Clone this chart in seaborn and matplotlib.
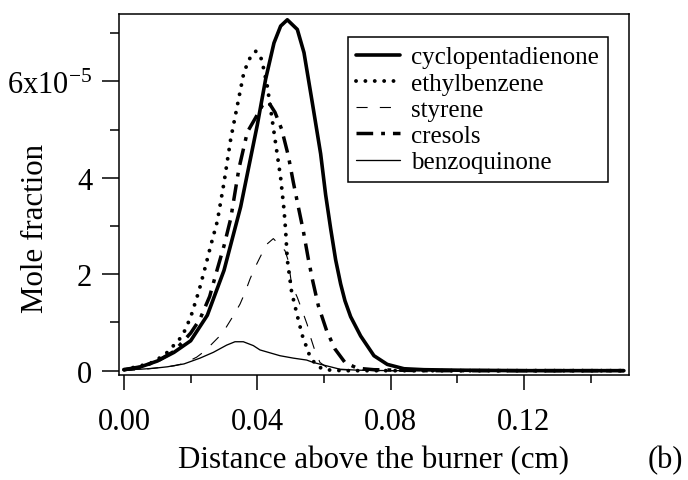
import pandas as pd
import seaborn as sns
import matplotlib.pyplot as plt

sns.set_style('ticks')
plt.rcParams['font.family'] = ['Liberation Serif', 'DejaVu Serif']
plt.rcParams['mathtext.fontset'] = 'custom'
plt.rcParams['mathtext.rm'] = 'Liberation Serif'
plt.rcParams['mathtext.default'] = 'regular'
for key in ['text.color', 'axes.labelcolor', 'xtick.color', 'ytick.color', 'axes.edgecolor']:
    plt.rcParams[key] = 'black'

# ---------- data (distance in cm, mole fraction in 1e-5) ----------
cpd_x = [0, 0.005, 0.01, 0.015, 0.02, 0.025, 0.03, 0.035, 0.04, 0.0425, 0.045, 0.047,
         0.049, 0.052, 0.054, 0.0565, 0.059, 0.0605, 0.062, 0.0635, 0.065, 0.0663, 0.068,
         0.071, 0.075, 0.079, 0.084, 0.09, 0.10, 0.12, 0.15]
cpd_y = [0.02, 0.08, 0.2, 0.38, 0.62, 1.15, 2.08, 3.4, 5.1, 6.05, 6.8, 7.15,
         7.28, 7.08, 6.6, 5.56, 4.5, 3.65, 2.95, 2.3, 1.8, 1.45, 1.12,
         0.72, 0.31, 0.13, 0.04, 0.02, 0.01, 0.0, 0.0]

eb_x = [0, 0.005, 0.009, 0.013, 0.0175, 0.02, 0.0225, 0.0245, 0.026, 0.028, 0.030, 0.032,
        0.034, 0.036, 0.038, 0.0396, 0.0413, 0.043, 0.045, 0.047, 0.048, 0.0485, 0.049,
        0.0503, 0.052, 0.0535, 0.0555, 0.0575, 0.0595, 0.062, 0.066, 0.08, 0.1, 0.12, 0.15]
eb_y = [0.02, 0.1, 0.18, 0.38, 0.72, 1.11, 1.66, 2.18, 2.59, 3.1, 3.9, 4.8,
        5.5, 6.2, 6.52, 6.63, 6.46, 5.9, 4.95, 4.0, 3.35, 2.9, 2.3,
        1.63, 1.14, 0.73, 0.35, 0.12, 0.04, 0.01, 0.0, 0.0, 0.0, 0.0, 0.0]

sty_x = [0, 0.005, 0.01, 0.015, 0.018, 0.0218, 0.0243, 0.0283, 0.0303, 0.0328, 0.0348,
         0.0363, 0.0378, 0.0393, 0.0408, 0.0428, 0.0448, 0.0465, 0.0483, 0.0493, 0.0503,
         0.052, 0.0535, 0.055, 0.0558, 0.0573, 0.0588, 0.061, 0.065, 0.08, 0.1, 0.12, 0.15]
sty_y = [0.0, 0.02, 0.06, 0.1, 0.15, 0.28, 0.41, 0.69, 0.86, 1.14, 1.38,
         1.62, 1.9, 2.14, 2.35, 2.62, 2.74, 2.62, 2.49, 2.28, 1.78,
         1.52, 1.24, 0.95, 0.73, 0.41, 0.17, 0.06, 0.02, 0.0, 0.0, 0.0, 0.0]

cre_x = [0, 0.005, 0.01, 0.015, 0.02, 0.0228, 0.0257, 0.0278, 0.030, 0.032, 0.0345, 0.037,
         0.0395, 0.0415, 0.0433, 0.0453, 0.0473, 0.0493, 0.0508, 0.0523, 0.0538, 0.0553,
         0.0566, 0.0583, 0.0608, 0.0633, 0.0663, 0.07, 0.075, 0.09, 0.12, 0.15]
cre_y = [0.02, 0.07, 0.2, 0.4, 0.78, 1.07, 1.54, 2.06, 2.59, 3.15, 4.2, 4.95,
         5.25, 5.5, 5.58, 5.36, 5.01, 4.46, 3.91, 3.4, 2.9, 2.32,
         1.87, 1.35, 0.83, 0.45, 0.17, 0.05, 0.02, 0.0, 0.0, 0.0]

bq_x = [0, 0.005, 0.009, 0.013, 0.018, 0.0228, 0.0268, 0.0308, 0.0333, 0.0358, 0.0388,
        0.0408, 0.0438, 0.0468, 0.0508, 0.0548, 0.0568, 0.0608, 0.0648, 0.07, 0.08,
        0.1, 0.12, 0.15]
bq_y = [0.02, 0.03, 0.05, 0.08, 0.14, 0.26, 0.38, 0.53, 0.6, 0.6, 0.52,
        0.43, 0.37, 0.31, 0.26, 0.22, 0.17, 0.1, 0.03, 0.01, 0.0,
        0.0, 0.0, 0.0]

species = ['cyclopentadienone', 'ethylbenzene', 'styrene', 'cresols', 'benzoquinone']
xs = [cpd_x, eb_x, sty_x, cre_x, bq_x]
ys = [cpd_y, eb_y, sty_y, cre_y, bq_y]

styles = {
    'cyclopentadienone': dict(lw=2.6, linestyle='-'),
    'ethylbenzene': dict(lw=2.8, linestyle=(0, (0.01, 2.4)), dash_capstyle='round'),
    'styrene': dict(lw=0.8, linestyle=(0, (10, 11))),
    'cresols': dict(lw=2.5, linestyle=(0, (4.8, 2.3, 1.1, 2.3))),
    'benzoquinone': dict(lw=0.95, linestyle='-'),
}

fig = plt.figure(figsize=(6.88, 4.81), dpi=100)
ax = fig.add_axes([0.173, 0.2183, 0.7406, 0.7505])

for name, x, y in zip(species, xs, ys):
    df = pd.DataFrame({'dist': x, 'frac': [v * 1e-5 for v in y]})
    sns.lineplot(data=df, x='dist', y='frac', ax=ax, color='black', label=name,
                 **styles[name])

ax.set_xlim(-0.0015, 0.1514)
ax.set_ylim(-0.09e-5, 7.40e-5)
ax.set_xticks([0, 0.04, 0.08, 0.12], ['0.00', '0.04', '0.08', '0.12'])
ax.set_xticks([0.02, 0.06, 0.10, 0.14], minor=True)
ax.set_yticks([0, 2e-5, 4e-5, 6e-5], ['0', '2', '4', '6x10$^{-5}$'])
ax.set_yticks([1e-5, 3e-5, 5e-5, 7e-5], minor=True)

ax.tick_params(which='both', direction='out', width=1.1, color='black', labelsize=22,
               labelcolor='black')
ax.tick_params(axis='y', which='major', length=12.2, pad=7)
ax.tick_params(axis='y', which='minor', length=6.5)
ax.tick_params(axis='x', which='major', length=10.8, pad=12)
ax.tick_params(axis='x', which='minor', length=5.8)
for sp in ax.spines.values():
    sp.set_visible(True)
    sp.set_linewidth(1.1)
    sp.set_color('black')

ax.set_xlabel('Distance above the burner (cm)', fontsize=22.3, color='black')
ax.set_ylabel('Mole fraction', fontsize=22.3, color='black')
ax.xaxis.set_label_coords(0.5, -0.195)
ax.yaxis.set_label_coords(-0.135, 0.41)

leg = ax.legend(loc='upper right', bbox_to_anchor=(0.9598, 0.9363), borderaxespad=0,
                fontsize=18, handlelength=1.75, handletextpad=0.45, labelspacing=0.15,
                borderpad=0.35, frameon=True, fancybox=False, framealpha=1)
leg.get_frame().set_edgecolor('black')
leg.get_frame().set_linewidth(1.1)
for t in leg.get_texts():
    t.set_color('black')

fig.text(0.9666, 0.0416, '(b)', fontsize=22, ha='center', va='center', color='black')

fig.savefig('out.png', dpi=100)
